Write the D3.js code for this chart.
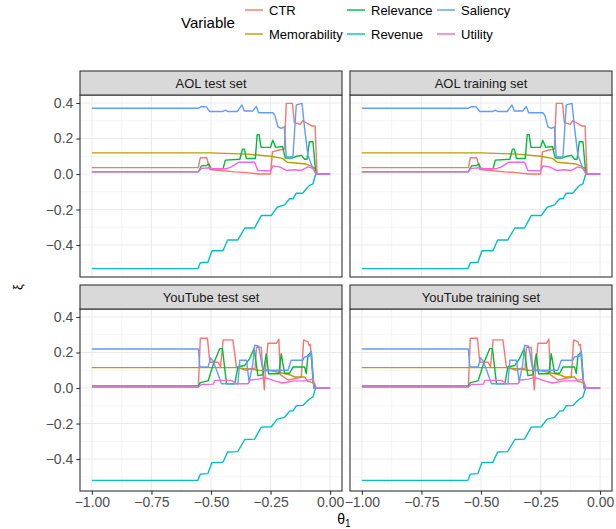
<!DOCTYPE html>
<html>
<head>
<meta charset="utf-8">
<script src="https://cdn.jsdelivr.net/npm/d3@7"></script>
<style>
  body { margin: 0; background: #fff; }
  text { font-family: "Liberation Sans", Arial, sans-serif; }
</style>
</head>
<body>
<div id="chart"></div>
<script>
// series names in legend / palette order
var variables = ['CTR', 'Memorability', 'Relevance', 'Revenue', 'Saliency', 'Utility'];
var colors = ['#F8766D', '#B79F00', '#00BA38', '#00BFC4', '#619CFF', '#F564E3'];
var panelTitles = ['AOL test set', 'AOL training set', 'YouTube test set', 'YouTube training set'];
var xTicks = [-1, -0.75, -0.5, -0.25, 0];
var yTicks = [-0.4, -0.2, 0, 0.2, 0.4];

// AOL curves, [theta1, xi]
var aolCTR = [[-1, 0.036], [-0.553, 0.036], [-0.545, 0.092], [-0.518, 0.092], [-0.505, 0.025], [-0.45, 0.018],
  [-0.4, 0.012], [-0.35, 0.008], [-0.3, 0.0], [-0.25, 0.0], [-0.242, 0.125], [-0.215, 0.135], [-0.192, 0.14],
  [-0.184, 0.398], [-0.158, 0.398], [-0.15, 0.29], [-0.125, 0.28], [-0.115, 0.3], [-0.075, 0.27], [-0.063, 0.27],
  [-0.055, 0.0], [0, 0]];
var aolMemorability = [[-1, 0.119], [-0.5, 0.119], [-0.35, 0.112], [-0.25, 0.1], [-0.2, 0.088], [-0.18, 0.066],
  [-0.1, 0.056], [-0.075, 0.042], [-0.062, 0.03], [-0.055, 0.0], [0, 0]];
var aolRelevance = [[-1, 0.013], [-0.553, 0.013], [-0.54, 0.046], [-0.519, 0.048], [-0.509, 0.058], [-0.5, 0.03],
  [-0.449, 0.03], [-0.44, 0.078], [-0.379, 0.083], [-0.368, 0.14], [-0.36, 0.14], [-0.351, 0.087], [-0.314, 0.087],
  [-0.306, 0.222], [-0.298, 0.222], [-0.29, 0.15], [-0.25, 0.15], [-0.241, 0.19], [-0.228, 0.15], [-0.2, 0.155],
  [-0.188, 0.09], [-0.16, 0.09], [-0.14, 0.1], [-0.12, 0.105], [-0.107, 0.083], [-0.097, 0.083], [-0.087, 0.182],
  [-0.072, 0.182], [-0.06, 0.0], [0, 0]];
var aolRevenue = [[-1, -0.533], [-0.555, -0.533], [-0.545, -0.5], [-0.513, -0.497], [-0.496, -0.432], [-0.45, -0.432],
  [-0.43, -0.372], [-0.388, -0.372], [-0.358, -0.304], [-0.317, -0.304], [-0.289, -0.234], [-0.247, -0.234],
  [-0.222, -0.187], [-0.191, -0.174], [-0.17, -0.139], [-0.155, -0.139], [-0.142, -0.108], [-0.114, -0.108],
  [-0.1, -0.083], [-0.086, -0.064], [-0.072, -0.055], [-0.062, -0.007], [-0.054, 0.0], [0, 0]];
var aolSaliency = [[-1, 0.37], [-0.555, 0.37], [-0.54, 0.38], [-0.52, 0.378], [-0.505, 0.352], [-0.45, 0.352],
  [-0.44, 0.36], [-0.43, 0.352], [-0.39, 0.352], [-0.37, 0.389], [-0.36, 0.355], [-0.325, 0.355], [-0.31, 0.38],
  [-0.3, 0.345], [-0.24, 0.345], [-0.232, 0.33], [-0.219, 0.266], [-0.205, 0.257], [-0.192, 0.266], [-0.184, 0.096],
  [-0.156, 0.096], [-0.142, 0.389], [-0.118, 0.398], [-0.107, 0.257], [-0.093, 0.105], [-0.072, 0.03],
  [-0.058, 0.0], [0, 0]];
var aolUtility = [[-1, 0.013], [-0.553, 0.013], [-0.54, 0.032], [-0.505, 0.035], [-0.491, 0.03], [-0.435, 0.03],
  [-0.414, 0.04], [-0.385, 0.066], [-0.317, 0.066], [-0.303, 0.02], [-0.25, 0.017], [-0.24, 0.046], [-0.212, 0.04],
  [-0.184, 0.02], [-0.15, 0.024], [-0.121, 0.02], [-0.093, 0.04], [-0.072, 0.032], [-0.058, 0.0], [0, 0]];

// YouTube curves
var ytCTR = [[-1, 0.005], [-0.553, 0.005], [-0.545, 0.28], [-0.515, 0.28], [-0.505, 0.145], [-0.47, 0.145],
  [-0.46, 0.12], [-0.449, 0.271], [-0.408, 0.271], [-0.393, 0.116], [-0.351, 0.1], [-0.335, 0.11], [-0.315, 0.11],
  [-0.309, 0.23], [-0.289, 0.228], [-0.282, 0.088], [-0.276, -0.01], [-0.272, 0.088], [-0.261, 0.252],
  [-0.225, 0.252], [-0.215, 0.275], [-0.209, 0.075], [-0.177, 0.045], [-0.121, 0.06], [-0.111, 0.271],
  [-0.093, 0.26], [-0.088, 0.24], [-0.083, 0.245], [-0.072, 0.04], [-0.065, 0.0], [0, 0]];
var ytMemorability = [[-1, 0.115], [-0.39, 0.115], [-0.345, 0.108], [-0.3, 0.1], [-0.247, 0.097], [-0.17, 0.075],
  [-0.149, 0.062], [-0.107, 0.062], [-0.093, 0.037], [-0.072, 0.03], [-0.058, 0.0], [0, 0]];
var ytRelevance = [[-1, 0.012], [-0.553, 0.012], [-0.545, 0.03], [-0.512, 0.04], [-0.49, 0.135], [-0.463, 0.222],
  [-0.452, 0.222], [-0.435, 0.024], [-0.4, 0.024], [-0.387, 0.12], [-0.358, 0.127], [-0.338, 0.166],
  [-0.319, 0.222], [-0.303, 0.07], [-0.282, 0.075], [-0.268, 0.192], [-0.258, 0.08], [-0.215, 0.08],
  [-0.205, 0.193], [-0.191, 0.083], [-0.17, 0.083], [-0.156, 0.118], [-0.107, 0.118], [-0.1, 0.082],
  [-0.093, 0.184], [-0.079, 0.203], [-0.068, 0.0], [0, 0]];
var ytRevenue = [[-1, -0.52], [-0.555, -0.52], [-0.545, -0.485], [-0.513, -0.482], [-0.496, -0.42], [-0.45, -0.418],
  [-0.43, -0.36], [-0.388, -0.358], [-0.358, -0.29], [-0.317, -0.288], [-0.289, -0.22], [-0.247, -0.218],
  [-0.222, -0.175], [-0.191, -0.165], [-0.17, -0.13], [-0.155, -0.128], [-0.142, -0.1], [-0.114, -0.098],
  [-0.1, -0.078], [-0.086, -0.062], [-0.072, -0.05], [-0.062, -0.005], [-0.054, 0.0], [0, 0]];
var ytSaliency = [[-1, 0.22], [-0.553, 0.22], [-0.547, 0.118], [-0.512, 0.118], [-0.502, 0.17], [-0.49, 0.15],
  [-0.456, 0.024], [-0.387, 0.024], [-0.379, 0.156], [-0.351, 0.156], [-0.34, 0.035], [-0.325, 0.13],
  [-0.317, 0.241], [-0.3, 0.235], [-0.282, 0.1], [-0.177, 0.1], [-0.163, 0.156], [-0.114, 0.156],
  [-0.108, 0.175], [-0.086, 0.178], [-0.079, 0.207], [-0.068, 0.0], [0, 0]];
var ytUtility = [[-1, 0.006], [-0.553, 0.006], [-0.54, 0.02], [-0.49, 0.022], [-0.484, 0.043], [-0.414, 0.043],
  [-0.393, 0.024], [-0.345, 0.024], [-0.335, 0.045], [-0.3, 0.05], [-0.275, 0.06], [-0.233, 0.04], [-0.2, 0.028],
  [-0.15, 0.04], [-0.107, 0.04], [-0.072, 0.05], [-0.058, 0.0], [0, 0]];

var aolSeries = [aolCTR, aolMemorability, aolRelevance, aolRevenue, aolSaliency, aolUtility];
var ytSeries = [ytCTR, ytMemorability, ytRelevance, ytRevenue, ytSaliency, ytUtility];
// test and training sets draw the same shapes
var panelSeries = [aolSeries, aolSeries, ytSeries, ytSeries];

var width = 616, height = 529;
var colX = [80, 350], panelW = 262;
var rowY = [95, 309], panelH = 182, stripH = 24;

var svg = d3.select('#chart').append('svg')
  .attr('width', width)
  .attr('height', height);

var color = d3.scaleOrdinal().domain(variables).range(colors);

var xScale = d3.scaleLinear().domain([-1.05, 0.05]).range([0, panelW]);
var yScale = d3.scaleLinear().domain([-0.58, 0.445]).range([panelH, 0]);

var line = d3.line()
  .x(d => xScale(d[0]))
  .y(d => yScale(d[1]));

var xMinor = [-0.875, -0.625, -0.375, -0.125];
var yMinor = [-0.5, -0.3, -0.1, 0.1, 0.3];

panelTitles.forEach((title, i) => {
  var col = i % 2, row = Math.floor(i / 2);
  var g = svg.append('g')
    .attr('transform', 'translate(' + colX[col] + ', ' + rowY[row] + ')');

  g.append('rect')
    .attr('width', panelW).attr('height', panelH)
    .attr('fill', '#fff');

  // grid
  g.selectAll('.ygm').data(yMinor).enter().append('line')
    .attr('x1', 0).attr('x2', panelW)
    .attr('y1', d => yScale(d)).attr('y2', d => yScale(d))
    .attr('stroke', '#EBEBEB').attr('stroke-width', 0.55);
  g.selectAll('.xgm').data(xMinor).enter().append('line')
    .attr('y1', 0).attr('y2', panelH)
    .attr('x1', d => xScale(d)).attr('x2', d => xScale(d))
    .attr('stroke', '#EBEBEB').attr('stroke-width', 0.55);
  g.selectAll('.yg').data(yTicks).enter().append('line')
    .attr('x1', 0).attr('x2', panelW)
    .attr('y1', d => yScale(d)).attr('y2', d => yScale(d))
    .attr('stroke', '#EBEBEB').attr('stroke-width', 1.1);
  g.selectAll('.xg').data(xTicks).enter().append('line')
    .attr('y1', 0).attr('y2', panelH)
    .attr('x1', d => xScale(d)).attr('x2', d => xScale(d))
    .attr('stroke', '#EBEBEB').attr('stroke-width', 1.1);

  // lines
  panelSeries[i].forEach((pts, k) => {
    g.append('path')
      .datum(pts)
      .attr('d', line)
      .attr('fill', 'none')
      .attr('stroke', color(variables[k]))
      .attr('stroke-width', 1.4)
      .attr('stroke-linejoin', 'round');
  });

  g.append('rect')
    .attr('width', panelW).attr('height', panelH)
    .attr('fill', 'none').attr('stroke', '#333333').attr('stroke-width', 1.1);

  // strip
  g.append('rect')
    .attr('y', -stripH).attr('width', panelW).attr('height', stripH)
    .attr('fill', '#D9D9D9').attr('stroke', '#333333').attr('stroke-width', 1.1);
  g.append('text')
    .attr('x', panelW / 2).attr('y', -stripH / 2)
    .attr('dy', '0.35em')
    .attr('text-anchor', 'middle')
    .attr('font-size', '13px')
    .attr('fill', '#1A1A1A')
    .text(title);

  if (col === 0) {
    var yAxis = g.append('g')
      .call(d3.axisLeft(yScale).tickValues(yTicks).tickFormat(d3.format('.1f')).tickSizeOuter(0).tickSize(3.7).tickPadding(3));
    yAxis.select('.domain').remove();
    yAxis.selectAll('line').attr('stroke', '#333333').attr('stroke-width', 1.1);
    yAxis.selectAll('text').attr('fill', '#4D4D4D').attr('font-size', '14px')
      .style('font-family', '"Liberation Sans", Arial, sans-serif');
  }
  if (row === 1) {
    var xAxis = g.append('g')
      .attr('transform', 'translate(0, ' + panelH + ')')
      .call(d3.axisBottom(xScale).tickValues(xTicks).tickFormat(d3.format('.2f')).tickSizeOuter(0).tickSize(3.7).tickPadding(2));
    xAxis.select('.domain').remove();
    xAxis.selectAll('line').attr('stroke', '#333333').attr('stroke-width', 1.1);
    xAxis.selectAll('text').attr('fill', '#4D4D4D').attr('font-size', '14px')
      .style('font-family', '"Liberation Sans", Arial, sans-serif');
  }
});

// axis titles
svg.append('text')
  .attr('transform', 'translate(22, 287) rotate(-90)')
  .attr('text-anchor', 'middle')
  .attr('font-size', '13px')
  .attr('fill', '#000')
  .text('ξ');

var xt = svg.append('text')
  .attr('x', 344).attr('y', 524)
  .attr('text-anchor', 'middle')
  .attr('font-size', '14px')
  .attr('fill', '#000');
xt.append('tspan').text('θ');
xt.append('tspan').attr('font-size', '10px').attr('dy', 3).text('1');

// legend
svg.append('text')
  .attr('x', 181).attr('y', 23)
  .attr('dy', '0.35em')
  .attr('font-size', '15px')
  .attr('fill', '#000')
  .text('Variable');

var legCols = [245, 347, 437], legRows = [10, 34];
var legend = svg.selectAll('.leg').data(variables).enter().append('g')
  .attr('transform', (d, i) => 'translate(' + legCols[Math.floor(i / 2)] + ', ' + legRows[i % 2] + ')');
legend.append('line')
  .attr('x1', 0).attr('x2', 18)
  .attr('stroke', d => color(d))
  .attr('stroke-width', 1.4);
legend.append('text')
  .attr('x', 24).attr('dy', '0.35em')
  .attr('font-size', '13px')
  .attr('fill', '#000')
  .text(d => d);
</script>
</body>
</html>
